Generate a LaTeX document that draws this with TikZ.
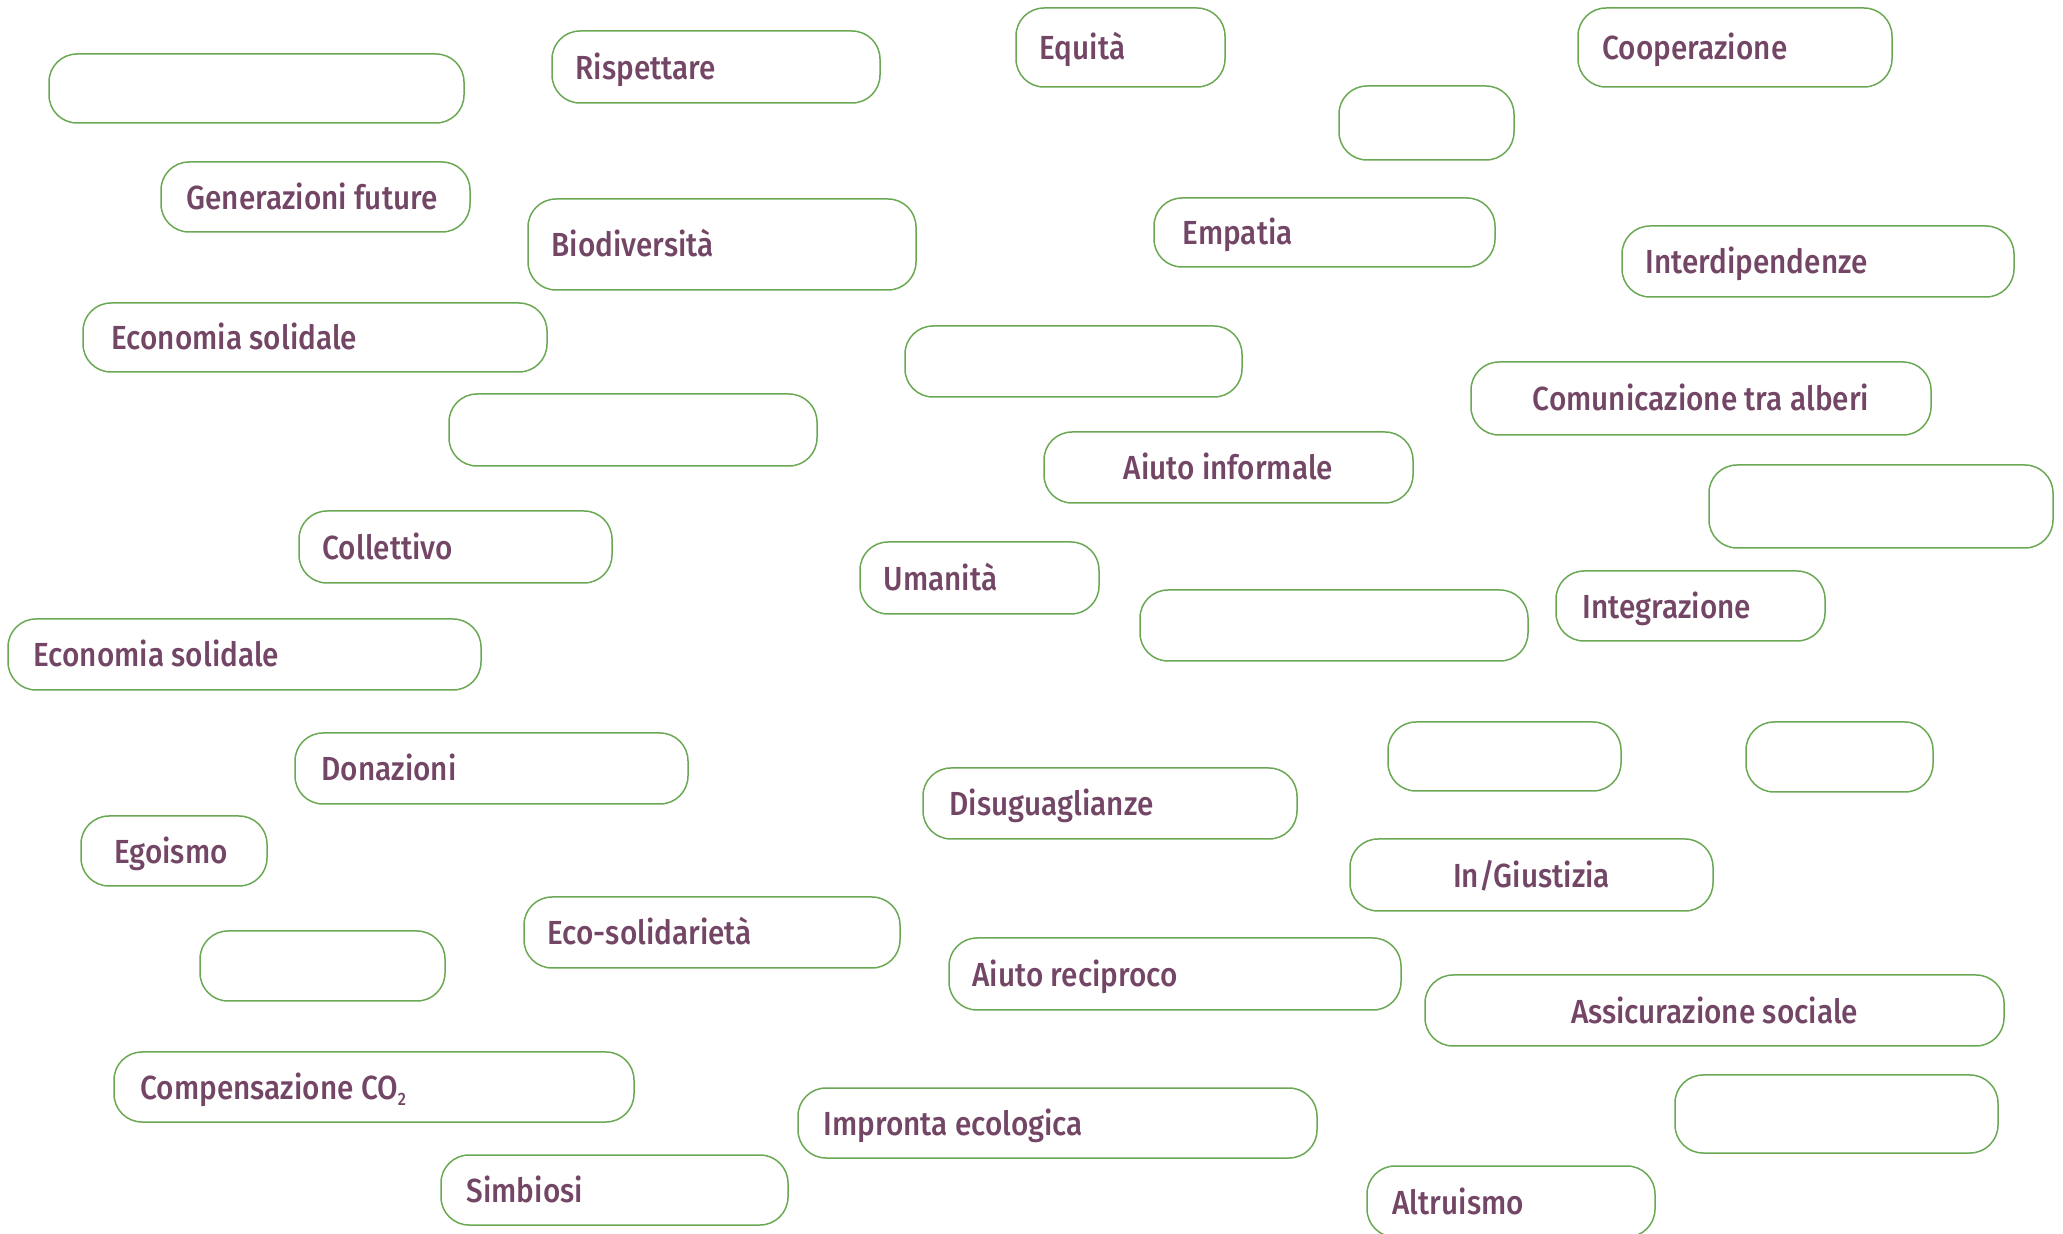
\documentclass[tikz,border=0pt]{standalone}
\usepackage{fontspec}
\IfFontExistsTF{Fira Sans Medium}{\setmainfont{Fira Sans Medium}[FakeStretch=0.89]}{\setmainfont{Fira Sans}[FakeStretch=0.89,FakeBold=0.5]}
\usetikzlibrary{fit}
\definecolor{boxc}{RGB}{106,168,84}
\definecolor{txtc}{RGB}{115,70,102}
\tikzset{
  wb/.style={draw=boxc, line width=0.75pt, rounded corners=14pt, inner sep=0pt},
  lbl/.style={text=txtc, inner sep=0pt, font=\fontsize{16.7pt}{20pt}\selectfont}
}
\newcommand\tbl[7]{%
  \node[wb, fit={(#2,#3)(#4,#5)}] (#1) {};
  \node[lbl, anchor=base west] (#1-t) at ([xshift=#6*0.5pt, yshift=-6.25pt]#1.west) {#7};
}
\newcommand\tbc[6]{%
  \node[wb, fit={(#2,#3)(#4,#5)}] (#1) {};
  \node[lbl, anchor=base] (#1-t) at ([yshift=-6.25pt]#1.center) {#6};
}
\newcommand\tbe[5]{%
  \node[wb, fit={(#2,#3)(#4,#5)}] (#1) {};
}
\begin{document}
\begin{tikzpicture}[x=0.5pt, y=-0.5pt]
\useasboundingbox (0,0) rectangle (2063,1234);
\clip (0,0) rectangle (2063,1234);
\tbe{e1}{49}{54}{464}{123}
\tbl{rispettare}{552}{31}{880}{103}{24}{Rispettare}
\tbl{equita}{1016}{8}{1225}{87}{24}{Equità}
\tbl{cooperazione}{1578}{8}{1892}{87}{25}{Cooperazione}
\tbe{e2}{1339}{86}{1514}{160}
\tbl{generazioni}{161}{162}{470}{232}{26}{Generazioni future}
\tbl{biodiversita}{528}{199}{916}{290}{24}{Biodiversità}
\tbl{empatia}{1154}{198}{1495}{267}{29}{Empatia}
\tbl{interdipendenze}{1622}{226}{2014}{297}{24}{Interdipendenze}
\tbl{ecosol1}{83}{303}{547}{372}{29}{Economia solidale}
\tbe{e3}{905}{326}{1242}{397}
\tbc{comunicazione}{1471}{362}{1931}{435}{Comunicazione tra alberi}
\tbe{e4}{449}{394}{817}{466}
\tbc{aiutoinf}{1044}{432}{1413}{503}{Aiuto informale}
\tbe{e5}{1709}{465}{2053}{548}
\tbl{collettivo}{299}{511}{612}{583}{24}{Collettivo}
\tbl{umanita}{860}{542}{1099}{614}{24}{Umanità}
\tbe{e6}{1140}{590}{1528}{661}
\tbl{integrazione}{1556}{571}{1825}{641}{27}{Integrazione}
\tbl{ecosol2}{8}{619}{481}{690}{26}{Economia solidale}
\tbl{donazioni}{295}{733}{688}{804}{27}{Donazioni}
\tbe{e7}{1388}{722}{1621}{791}
\tbe{e8}{1746}{722}{1933}{792}
\tbl{disug}{923}{768}{1297}{839}{27}{Disuguaglianze}
\tbl{egoismo}{81}{816}{267}{886}{34}{Egoismo}
\tbc{ingiust}{1350}{839}{1713}{911}{In/Giustizia}
\tbl{ecosolid}{524}{897}{900}{968}{24}{Eco-solidarietà}
\tbe{e9}{200}{931}{445}{1001}
\tbl{aiutorec}{949}{938}{1401}{1010}{24}{Aiuto reciproco}
\tbc{assic}{1425}{975}{2004}{1046}{Assicurazione sociale}
\tbl{compens}{114}{1052}{634}{1122}{27}{Compensazione CO\raisebox{-0.35ex}{\fontsize{9pt}{10pt}\selectfont 2}}
\tbl{impronta}{798}{1088}{1317}{1158}{26}{Impronta ecologica}
\tbe{e10}{1675}{1075}{1998}{1153}
\tbl{simbiosi}{441}{1155}{788}{1225}{26}{Simbiosi}
\tbl{altruismo}{1367}{1166}{1655}{1237}{26}{Altruismo}
\end{tikzpicture}
\end{document}
